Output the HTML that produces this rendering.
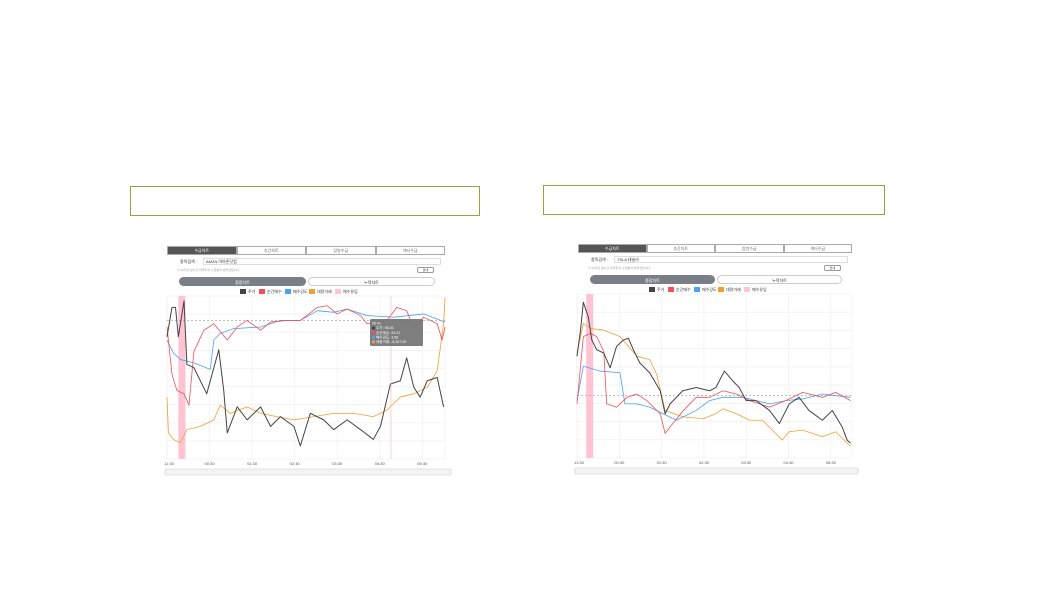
<!DOCTYPE html>
<html><head><meta charset="utf-8"><style>
body{margin:0;width:1047px;height:589px;background:#fff;position:relative;overflow:hidden;font-family:"Liberation Sans","Noto Sans CJK KR",sans-serif}
.a{position:absolute;box-sizing:border-box}
.box{border:1px solid #9aa040}
.tab{font-size:4px;color:#666;text-align:center;line-height:8px;border:1px solid #aaa;background:#fff}
.tab.on{background:#555;color:#fff}
.t{font-size:4px;color:#333;white-space:nowrap}
.pill{border-radius:5px;font-size:4px;text-align:center;line-height:9px;border:1px solid #ccc}
</style></head><body>
<div class="a box" style="left:130px;top:186px;width:350px;height:30px"></div>
<div class="a box" style="left:543px;top:185px;width:342px;height:30px"></div>
<div id="L"></div><div id="R"></div>
<script>
// LEFT chart data (x = minutes since 11:30, y = normalized 0..100)
const L_priceT=[0,7,12,16,24,28,38,47,56,73,80,85,99,113,132,146,160,179,188,202,221,235,254,273,291,301,315,329,338,348,357,367,381,390];
const L_priceV=[75,93,93,75,97,58,56,48,40,67,42,16,32,24,32,20,26,20,8,28,24,18,24,18,12,20,46,48,62,44,38,48,50,32];
const L_redT=[0,7,14,24,31,38,52,66,85,99,113,132,146,169,188,212,226,240,254,273,282,310,324,338,348,362,381,388,392];
const L_redV=[81,52,42,40,33,66,79,83,73,81,85,79,84,85,85,93,94,89,92,88,83,85,93,91,80,87,83,73,81];
const L_blueT=[0,9,19,38,61,66,75,94,132,160,188,212,235,254,282,320,362,392];
const L_blueV=[73,65,61,59,55,73,77,80,81,85,85,91,90,92,88,87,89,84];
const L_orgT=[0,2,9,19,28,47,66,75,89,113,132,155,179,207,235,263,291,310,329,348,367,381,390,392];
const L_orgV=[38,16,12,10,18,20,24,33,28,32,28,26,24,26,28,28,26,30,38,40,44,54,83,99];
// RIGHT chart data
const R_priceT=[0,5,9,16,21,28,38,47,56,66,73,80,89,103,118,125,132,150,169,188,197,209,221,230,240,254,273,287,301,315,329,348,362,376,383,388];
const R_priceV=[62,78,95,86,72,66,64,55,68,72,73,66,58,52,41,27,33,41,43,41,43,53,47,43,35,35,29,21,33,37,29,23,29,19,11,9];
const R_redT=[0,9,19,28,38,42,56,71,85,99,118,125,132,151,169,188,207,226,245,273,296,320,348,367,388];
const R_redV=[33,74,76,74,65,33,31,37,39,35,27,15,19,29,37,37,41,39,35,31,35,40,37,40,35];
const R_blueT=[0,9,33,61,68,85,103,122,141,169,188,207,235,254,273,296,320,348,367,388];
const R_blueV=[35,56,53,52,33,33,31,27,23,29,35,37,37,35,33,35,36,39,38,37];
const R_orgT=[0,9,19,38,61,85,103,113,125,151,179,197,207,226,245,263,277,291,301,320,348,367,388];
const R_orgV=[64,82,79,78,74,62,60,51,29,25,24,27,30,27,23,23,17,11,16,17,13,16,7];
const tickLabels=["11:30","00:30","01:30","02:30","03:30","04:30","05:30"];
const tickMins=[0,60,120,180,240,300,360];
const legendNames=["주가","순간매수","매수강도","대량거래","매수유입"];
const legendColors=["#444","#f0505a","#4aa3ee","#f0a030","#ffc4d4"];
const tabNames=["수급차트","추간차트","잉벙수급","섹터수급"];

function build(host,cfg){
  const h=document.getElementById(host);
  let s='';
  const tw=(cfg.x1-cfg.x0)/4;
  tabNames.forEach((n,i)=>{s+=`<div class="a tab${i==0?' on':''}" style="left:${cfg.x0+i*tw}px;top:${cfg.tabY}px;width:${tw}px;height:9px">${n}</div>`;});
  s+=`<div class="a t" style="left:${cfg.x0+13}px;top:${cfg.tabY+13}px">종목검색 :</div>`;
  s+=`<div class="a t" style="left:${cfg.x0+36}px;top:${cfg.tabY+12}px;width:${cfg.x1-cfg.x0-40}px;height:7px;border:1px solid #ddd;padding-left:2px;line-height:6px">${cfg.stock}</div>`;
  s+=`<div class="a t" style="left:${cfg.x0+10}px;top:${cfg.tabY+22}px;color:#999;font-size:3px">※ AI기반 실시간 미국주식 수급분석 솔루션입니다.</div>`;
  s+=`<div class="a t" style="left:${cfg.x1-28}px;top:${cfg.tabY+21}px;width:17px;height:6px;border:1px solid #999;border-radius:2px;text-align:center;line-height:5px;font-size:3px">안내</div>`;
  const pw=(cfg.x1-cfg.x0-24)/2;
  s+=`<div class="a pill" style="left:${cfg.x0+12}px;top:${cfg.tabY+31}px;width:${pw}px;height:9px;background:#7a7f87;color:#fff;border-color:#7a7f87">종합차트</div>`;
  s+=`<div class="a pill" style="left:${cfg.x0+14+pw}px;top:${cfg.tabY+31}px;width:${pw}px;height:9px;background:#fff;color:#333">누적차트</div>`;
  h.innerHTML=s;
  let lx=cfg.legX;
  legendNames.forEach((n,i)=>{
    const e=document.createElement('div');
    
    
    e.className='a t';
    e.style.cssText=`left:${lx}px;top:${cfg.tabY+43}px;font-size:4px;line-height:6px`;
    e.innerHTML=`<span style="display:inline-block;width:6px;height:5px;background:${legendColors[i]};vertical-align:-1px;margin-right:2px"></span>${n}`;
    h.appendChild(e);lx+=[19,26,24,26,25][i];
  });
  const NS='http://www.w3.org/2000/svg';
  const svg=document.createElementNS(NS,'svg');
  
  
  svg.setAttribute('width',1047);svg.setAttribute('height',589);
  svg.style.cssText='position:absolute;left:0;top:0';
  h.appendChild(svg);
  const X=m=>cfg.px0+(m/cfg.maxT)*(cfg.px1-cfg.px0);
  const Y=v=>cfg.py1-(v/100)*(cfg.py1-cfg.py0);
  function el(tag,attrs,name){const e=document.createElementNS(NS,tag);for(const k in attrs)e.setAttribute(k,attrs[k]);
    
    
    svg.appendChild(e);return e;}
  el('rect',{x:cfg.px0,y:cfg.py0,width:cfg.px1-cfg.px0,height:cfg.py1-cfg.py0,fill:'#fff',stroke:'#eee','stroke-width':0.6},'plot-area');
  for(let i=1;i<9;i++){const y=cfg.py0+i*(cfg.py1-cfg.py0)/9;el('line',{x1:cfg.px0,x2:cfg.px1,y1:y,y2:y,stroke:'#eee','stroke-width':0.6},'grid-line');}
  tickMins.forEach((m,i)=>{
    el('line',{x1:X(m),x2:X(m),y1:cfg.py0,y2:cfg.py1,stroke:'#eee','stroke-width':0.6},'grid-line');
    const t=el('text',{x:X(m)+(i==0?2:0),y:cfg.py1+6,'font-size':4,'text-anchor':'middle',fill:'#555'},'x-tick-label');t.textContent=tickLabels[i];
  });
  el('rect',{x:X(cfg.bandT[0]),y:cfg.py0,width:X(cfg.bandT[1])-X(cfg.bandT[0]),height:cfg.py1-cfg.py0,fill:'#ffc4d4'},'buy-inflow-band');
  el('line',{x1:cfg.px0,x2:cfg.px1,y1:Y(cfg.dash),y2:Y(cfg.dash),stroke:'#999','stroke-width':0.7,'stroke-dasharray':'2,2'},'reference-line');
  const ser=[[cfg.org,'#f0a030','volume-line',0.8],[cfg.blue,'#4aa3ee','strength-line',0.8],[cfg.red,'#f0505a','momentary-buy-line',0.8],[cfg.price,'#444','price-line',1]];
  ser.forEach(([d,c,n,w])=>{el('polyline',{points:d[0].map((t,i)=>X(t)+','+Y(d[1][i])).join(' '),fill:'none',stroke:c,'stroke-width':w,'stroke-linejoin':'round'},n);});
  el('rect',{x:cfg.px0-2,y:cfg.py1+10,width:cfg.px1-cfg.px0+8,height:6,fill:'#f3f3f3',stroke:'#ccc','stroke-width':0.6,rx:1},'scrollbar');
  if(cfg.tip){
    el('line',{x1:cfg.tip.x+21,x2:cfg.tip.x+21,y1:cfg.py0,y2:cfg.py1,stroke:'#f6b0b8','stroke-width':0.6},'hover-line');
    el('rect',{x:cfg.tip.x,y:cfg.tip.y,width:53,height:27,fill:'#777',rx:1.5,opacity:0.95},'tooltip');
    ['05:41','주가: 98.81','순간매수: 24.21','매수강도: 3.66','대량거래: -8,307.00'].forEach((s,i)=>{
      if(i>0)el('rect',{x:cfg.tip.x+2,y:cfg.tip.y+3+i*4.6,width:3,height:3,fill:legendColors[i-1]},'tooltip-swatch');
      const t=el('text',{x:cfg.tip.x+(i?6:2),y:cfg.tip.y+3+i*4.6+2.6,'font-size':3.6,fill:'#fff'},'tooltip-text');t.textContent=s;});
  }
}
build('L',{x0:167,x1:445,tabY:246,stock:'AMZN 아마존닷컴',legX:240,px0:167,px1:445,py0:296,py1:459,maxT:392,bandT:[16,26],dash:85,
  price:[L_priceT,L_priceV],red:[L_redT,L_redV],blue:[L_blueT,L_blueV],org:[L_orgT,L_orgV],tip:{x:370,y:319}});
build('R',{x0:578,x1:852,tabY:244,stock:'TSLA 테슬라',legX:649,px0:577,px1:852,py0:294,py1:458,maxT:390,bandT:[13,23],dash:38,
  price:[R_priceT,R_priceV],red:[R_redT,R_redV],blue:[R_blueT,R_blueV],org:[R_orgT,R_orgV]});
</script>
</body></html>
